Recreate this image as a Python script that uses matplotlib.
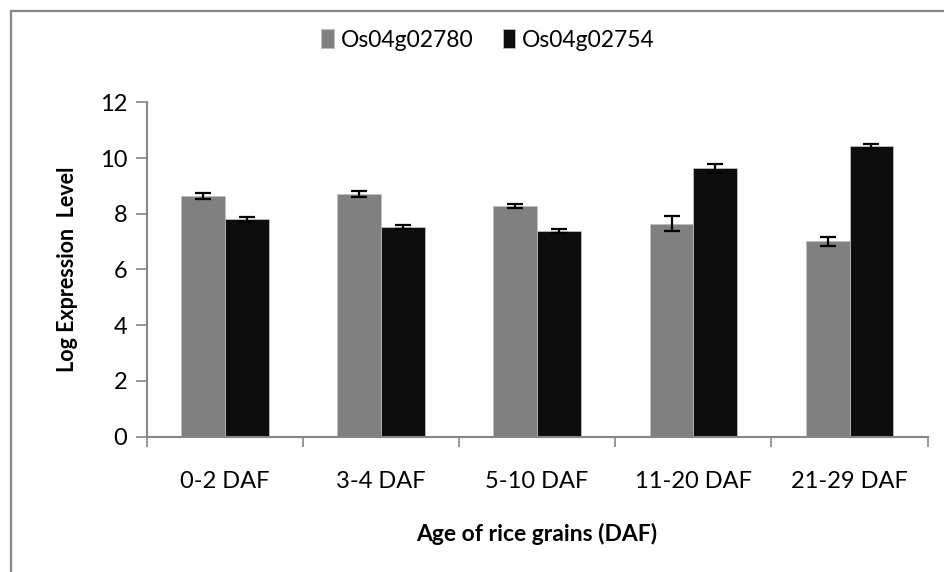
import matplotlib

matplotlib.use("Agg")
import matplotlib.pyplot as plt
import numpy as np
from matplotlib.patches import Rectangle

plt.rcParams["font.family"] = ["Lato", "DejaVu Sans"]

categories = ["0-2 DAF", "3-4 DAF", "5-10 DAF", "11-20 DAF", "21-29 DAF"]
series_names = ["Os04g02780", "Os04g02754"]
os02780 = [8.64, 8.71, 8.28, 7.65, 7.01]
os02780_err = [0.12, 0.12, 0.06, 0.26, 0.16]
os02754 = [7.80, 7.52, 7.37, 9.63, 10.42]
os02754_err = [0.08, 0.06, 0.07, 0.15, 0.09]
y_ticks = [0, 2, 4, 6, 8, 10, 12]

AXIS_GREY = "#868686"
COLORS = ["#808080", "#0d0d0d"]

fig = plt.figure(figsize=(9.44, 5.72), dpi=100)
ax = fig.add_axes([0.1554, 0.2365, 0.8273, 0.5847])

x = np.arange(len(categories))
w = 0.28
for i, (vals, errs) in enumerate([(os02780, os02780_err), (os02754, os02754_err)]):
    off = (i - 0.5) * w
    ax.bar(x + off, vals, width=w, color=COLORS[i], edgecolor="#bfbfbf",
           linewidth=0.6, label=series_names[i], zorder=2)
    ax.errorbar(x + off, vals, yerr=errs, fmt="none", ecolor="black",
                elinewidth=1.6, capsize=6, capthick=1.6, zorder=3)

ax.set_xlim(-0.5, len(categories) - 0.5)
ax.set_ylim(0, 12)
ax.set_yticks(y_ticks)
ax.tick_params(axis="y", length=8, width=1.2, color=AXIS_GREY, labelsize=17,
               pad=6)
# category labels centred, ticks on the boundaries
ax.set_xticks(np.arange(-0.5, len(categories)), minor=False)
ax.set_xticklabels([])
ax.set_xticks(x, minor=True)
ax.set_xticklabels(categories, minor=True, fontsize=17)
ax.tick_params(axis="x", which="major", length=7, width=1.2, color=AXIS_GREY)
ax.tick_params(axis="x", which="minor", length=0, pad=25)

for side in ("top", "right"):
    ax.spines[side].set_visible(False)
for side in ("left", "bottom"):
    ax.spines[side].set_color(AXIS_GREY)
    ax.spines[side].set_linewidth(1.5)

ax.set_ylabel("Log Expression  Level", fontsize=15.5, fontweight="bold",
              labelpad=16)
ax.set_xlabel("Age of rice grains (DAF)", fontsize=16.5, fontweight="bold",
              labelpad=22)

fig.legend(loc="center", bbox_to_anchor=(0.517, 0.93), ncol=2, frameon=False,
           fontsize=16.5, handlelength=0.55, handleheight=0.9,
           handletextpad=0.3, columnspacing=1.3)

# outer chart frame (runs off the right and bottom edges)
fig.patches.append(Rectangle((11 / 944, -0.1), 1.2, 1.1 - 11 / 572,
                             transform=fig.transFigure, fill=False,
                             edgecolor=AXIS_GREY, linewidth=1.6))

fig.savefig("out.png", dpi=100)
